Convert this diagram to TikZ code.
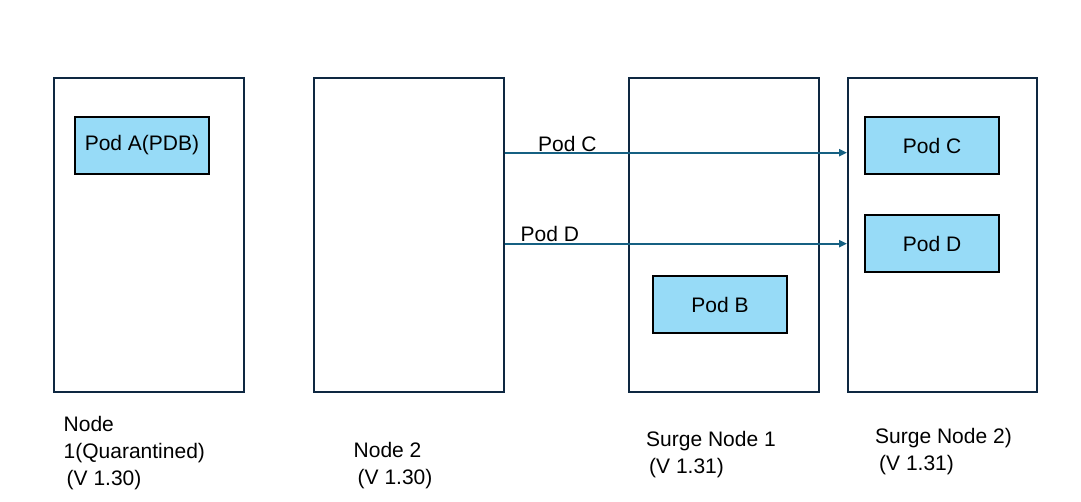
\documentclass[tikz,border=0pt]{standalone}
\usepackage{fontspec}
\setmainfont{Liberation Sans}
\usetikzlibrary{arrows.meta}
\definecolor{boxline}{HTML}{0E2841}
\definecolor{podfill}{HTML}{97DBF7}
\definecolor{arrowc}{HTML}{156082}
\tikzset{
  nodebox/.style={draw=boxline, line width=2pt, minimum width=190pt, minimum height=314pt, inner sep=0pt},
  podbox/.style={draw=black, fill=podfill, line width=2pt, minimum width=134pt, minimum height=57pt, inner sep=0pt,
    font=\fontsize{21}{24}\selectfont},
  lbl/.style={anchor=north west, inner sep=0pt, align=left, font=\fontsize{21}{27}\selectfont},
  arrlbl/.style={anchor=base west, inner sep=0pt, font=\fontsize{21}{24}\selectfont},
  arr/.style={draw=arrowc, line width=2pt, -{Triangle[length=8pt,width=7pt]}}
}
\begin{document}
\begin{tikzpicture}[x=1pt,y=-1pt]
\useasboundingbox[fill=white] (0,0) rectangle (1081,501);
% node boxes
\node[nodebox] (n1) at (148.5,234.5) {};
\node[nodebox] (n2) at (409,234.5) {};
\node[nodebox] (s1) at (724,234.5) {};
\node[nodebox, minimum width=189pt] (s2) at (942.5,234.5) {};
% pods
\node[podbox] (pa) at (142,145.5) {Pod A(PDB)};
\node[podbox] (pc) at (932,145.5) {Pod C};
\node[podbox] (pd) at (932,243.5) {Pod D};
\node[podbox] (pb) at (720,304.5) {Pod B};
% arrows
\draw[arr] (n2.east |- 0,152.7) -- (s2.west |- 0,152.7);
\draw[arr] (n2.east |- 0,243.7) -- (s2.west |- 0,243.7);
\node[arrlbl] (lc) at (538,151.5) {Pod C};
\node[arrlbl] (ld) at (520.5,241) {Pod D};
% labels
\node[lbl] (t1) at (63.5,416.5) {Node\\1(Quarantined)\\\hspace*{3pt}(V 1.30)};
\node[lbl] (t2) at (353.5,442.5) {Node 2\\\hspace*{4pt}(V 1.30)};
\node[lbl] (t3) at (646,431) {Surge Node 1\\\hspace*{3pt}(V 1.31)};
\node[lbl] (t4) at (875,428.5) {Surge Node 2)\\\hspace*{4pt}(V 1.31)};
\end{tikzpicture}
\end{document}
